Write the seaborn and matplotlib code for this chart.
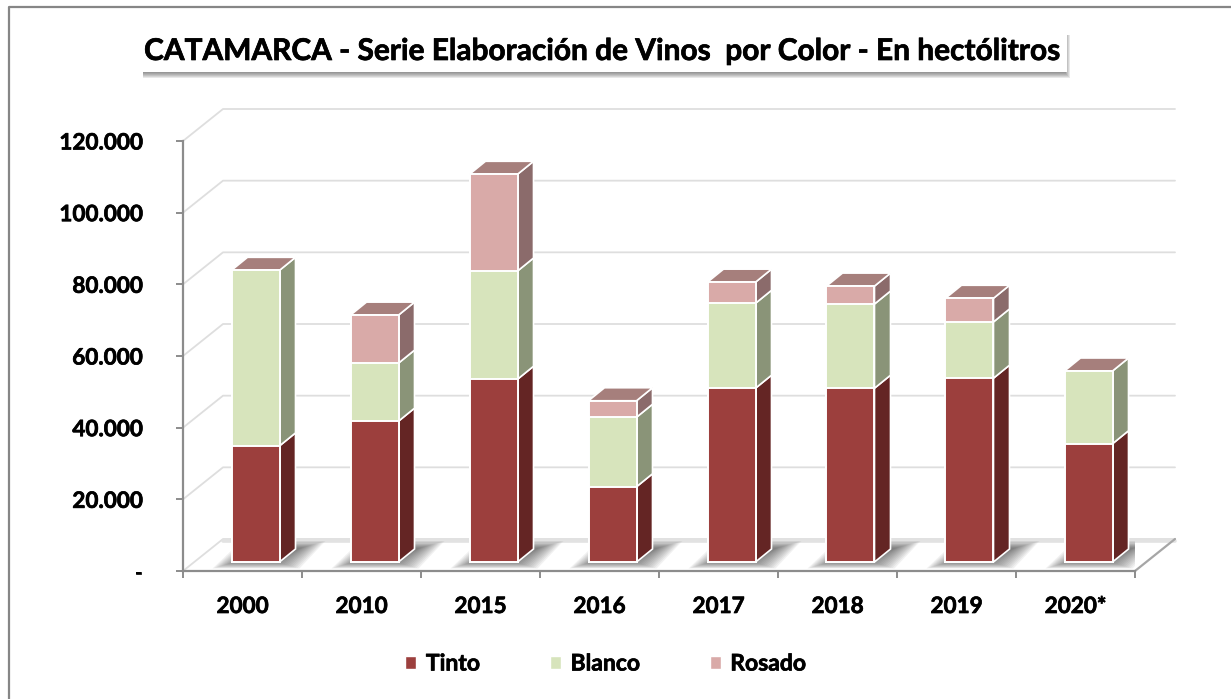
import numpy as np
import pandas as pd
import matplotlib
matplotlib.use("Agg")
import matplotlib.pyplot as plt
import matplotlib.patheffects as pe
from matplotlib.lines import Line2D
from matplotlib.patches import Patch, Polygon, Rectangle
import seaborn as sns

# === Data ===
anios = ["2000", "2010", "2015", "2016", "2017", "2018", "2019", "2020*"]
tinto = [32400, 39300, 51000, 21000, 48500, 48500, 51300, 33000]
blanco = [49000, 16200, 30200, 19400, 23700, 23500, 15700, 20300]
rosado = [0, 13400, 27000, 4600, 5900, 5000, 6600, 0]
y_ticks = [0, 20000, 40000, 60000, 80000, 100000, 120000]
y_labels = ["-", "20.000", "40.000", "60.000", "80.000", "100.000", "120.000"]
titulo = "CATAMARCA - Serie Elaboración de Vinos  por Color - En hectólitros"

# === Colours ===
col_front = {"Tinto": "#9C3F3D", "Blanco": "#D7E4BC", "Rosado": "#D9AAA8"}
col_side = {"Tinto": "#642524", "Blanco": "#8A9478", "Rosado": "#8B6B6B"}
col_top = "#A67F7C"
col_grid = "#DEDEDE"
col_axis = "#8C8C8C"

W, H = 1231, 699
PX_X = 119.0  # pixels per category
PX_Y = 430.0 / 120000  # pixels per hectolitre

sns.set_theme(style="white")
plt.rcParams["font.family"] = ["Lato", "DejaVu Sans"]
plt.rcParams["font.weight"] = "bold"

fig = plt.figure(figsize=(W / 100, H / 100), dpi=100, facecolor="white")
ax = fig.add_axes([183 / W, 1 - 571 / H, 952 / W, 430 / H], facecolor="none")
heavy = [pe.withStroke(linewidth=0.5, foreground="black")]


def fx(px):
    return px / W


def fy(py):
    return 1 - py / H


# 1. Frame of the picture (only top and left are visible)
fig.add_artist(Line2D([fx(9), fx(9), fx(W)], [fy(H), fy(7), fy(7)], color="#868686", lw=1.6))

# 2. Title box with a soft shadow, only to the right and below
for i in range(7):
    grow = 7 - i
    fig.add_artist(Rectangle((fx(143), fy(71 + grow)), (921 + grow * 0.8) / W, (36 + grow) / H,
                             transform=fig.transFigure, facecolor="#333333",
                             edgecolor="none", alpha=0.11))
fig.add_artist(Rectangle((fx(138), fy(72)), 929 / W, 46 / H, transform=fig.transFigure,
                         facecolor="white", edgecolor="none"))
fig.text(fx(602.5), fy(51), titulo, ha="center", va="center", fontsize=21.5, color="black",
         fontweight="bold", path_effects=heavy)

# 3. Stacked bars, drawn tallest first so each one leaves the upper part visible
base = 9 / PX_Y
width = 48 / PX_X
shift = 13 / PX_X
dx_bar, dy_bar = 16 / PX_X, 13 / PX_Y
dx_wall, dy_wall = 40 / PX_X, 32 / PX_Y

df = pd.DataFrame({"anio": anios, "Tinto": tinto, "Blanco": blanco, "Rosado": rosado})
df["c_tinto"] = df["Tinto"]
df["c_blanco"] = df["Tinto"] + df["Blanco"]
df["c_rosado"] = df["c_blanco"] + df["Rosado"]

for col, name in [("c_rosado", "Rosado"), ("c_blanco", "Blanco"), ("c_tinto", "Tinto")]:
    sns.barplot(data=df, x="anio", y=col, color=col_front[name], order=anios, width=width,
                bottom=base, saturation=1, errorbar=None, edgecolor="white", linewidth=1.4,
                zorder=5, ax=ax)
for p in ax.patches:
    p.set_x(p.get_x() + shift)

ax.set_xlim(-0.5, 7.5)
ax.set_ylim(0, 120000)

# 4. Walls and floor behind the bars
for t in y_ticks:
    ax.plot([-0.5, -0.5 + dx_wall, 7.5 + dx_wall], [t, t + dy_wall, t + dy_wall], color=col_grid,
            lw=1.3, clip_on=False, zorder=1)
ax.plot([7.5, 7.5 + dx_wall], [0, dy_wall], color="#A6A6A6", lw=1.6, clip_on=False, zorder=2)
ax.plot([-0.5 + dx_wall, 7.5 + dx_wall], [dy_wall - 500, dy_wall - 500], color="#E2E2E2", lw=2.6,
        clip_on=False, zorder=1)

# 5. Blurred shadows on the floor and side/top faces of each bar
for i, anio in enumerate(anios):
    xl = i + shift - width / 2
    xr = xl + width
    for k in range(14):
        s = k * 1.9 / PX_X
        v = k * 0.55 / PX_Y
        ax.add_patch(Polygon([(xl - 19 / PX_X + s, base - 6.5 / PX_Y + v),
                              (xr + 20 / PX_X - s, base - 6.5 / PX_Y + v),
                              (xr + 46 / PX_X - s, base + 21 / PX_Y - v),
                              (xl + 10 / PX_X + s, base + 21 / PX_Y - v)],
                             facecolor="#3A3A3A", edgecolor="none", alpha=0.065, zorder=3))

    bottom = base
    for name, vals in [("Tinto", tinto), ("Blanco", blanco), ("Rosado", rosado)]:
        if vals[i] == 0:
            continue
        top = bottom + vals[i]
        ax.add_patch(Polygon([(xr, bottom), (xr + dx_bar, bottom + dy_bar),
                              (xr + dx_bar, top + dy_bar), (xr, top)],
                             facecolor=col_side[name], edgecolor="white", lw=1.2, zorder=4))
        bottom = top
    ax.add_patch(Polygon([(xl, bottom), (xl + dx_bar, bottom + dy_bar),
                          (xr + dx_bar, bottom + dy_bar), (xr, bottom)],
                         facecolor=col_top, edgecolor="white", lw=1.2, zorder=4, clip_on=False))

# 6. Axes, ticks and labels
sns.despine(ax=ax, top=True, right=True)
for side in ["left", "bottom"]:
    ax.spines[side].set_color(col_axis)
    ax.spines[side].set_linewidth(1.6)
ax.set_yticks(y_ticks, y_labels)
ax.set_xticks(np.arange(-0.5, 8, 1), minor=False)
ax.set_xticklabels([])
ax.set_xticks(np.arange(len(anios)), anios, minor=True)
ax.tick_params(axis="y", which="major", length=5, width=1.4, color=col_axis, pad=24, labelsize=16.2,
               left=True, labelcolor="black")
ax.tick_params(axis="x", which="major", length=5, width=1.4, color=col_axis, bottom=True)
ax.tick_params(axis="x", which="minor", length=0, pad=18, labelsize=16.2, labelcolor="black")
ax.set_xlabel("")
ax.set_ylabel("")
for lab in ax.get_yticklabels() + ax.get_xticklabels(minor=True):
    lab.set_path_effects(heavy)

# 7. Legend
handles = [Patch(facecolor=col_front[n], edgecolor="white", label=n) for n in ["Tinto", "Blanco", "Rosado"]]
leg = fig.legend(handles=handles, loc="center", bbox_to_anchor=(fx(605.5), fy(664)), ncol=3, frameon=False,
                 fontsize=16.5, handlelength=0.48, handleheight=0.48, handletextpad=0.42,
                 columnspacing=3.05, labelcolor="black")
for txt in leg.get_texts():
    txt.set_path_effects(heavy)

fig.savefig("out.png", dpi=100)
